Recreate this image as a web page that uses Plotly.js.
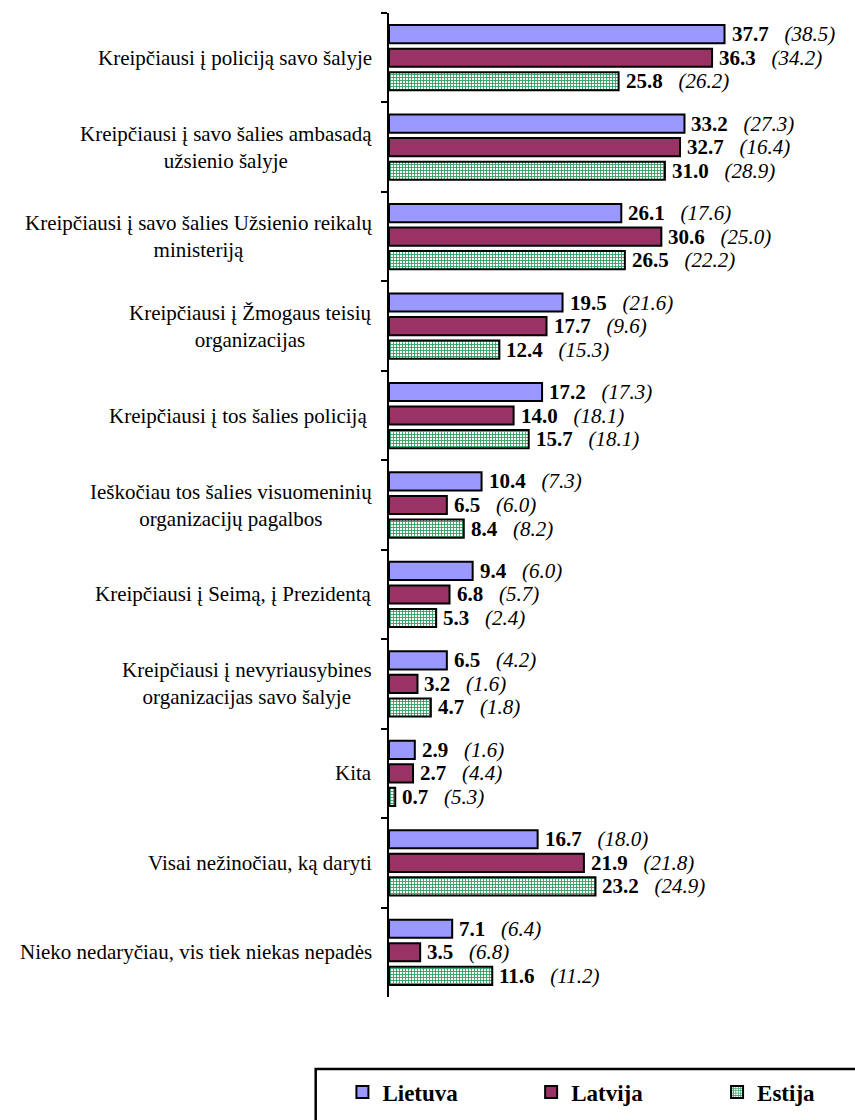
<!DOCTYPE html>
<html>
<head>
<meta charset="utf-8">
<script src="https://cdn.plot.ly/plotly-3.0.1.min.js"></script>
<style>html,body{margin:0;padding:0;background:#fff;}#chart{width:855px;height:1120px;}</style>
</head>
<body>
<div id="chart"></div>
<script>
var categories = [
  "Kreipčiausi į policiją savo šalyje",
  "Kreipčiausi į savo šalies ambasadą<br>užsienio šalyje",
  "Kreipčiausi į savo šalies Užsienio reikalų<br>ministeriją",
  "Kreipčiausi į Žmogaus teisių<br>organizacijas",
  "Kreipčiausi į tos šalies policiją\u00a0",
  "Ieškočiau tos šalies visuomeninių<br>organizacijų pagalbos",
  "Kreipčiausi į Seimą, į Prezidentą",
  "Kreipčiausi į nevyriausybines<br>organizacijas savo šalyje",
  "Kita",
  "Visai nežinočiau, ką daryti",
  "Nieko nedaryčiau, vis tiek niekas nepadės"
];
var seriesNames = ["Lietuva", "Latvija", "Estija"];
var lietuva = [37.7, 33.2, 26.1, 19.5, 17.2, 10.4, 9.4, 6.5, 2.9, 16.7, 7.1];
var latvija = [36.3, 32.7, 30.6, 17.7, 14.0, 6.5, 6.8, 3.2, 2.7, 21.9, 3.5];
var estija  = [25.8, 31.0, 26.5, 12.4, 15.7, 8.4, 5.3, 4.7, 0.7, 23.2, 11.6];
var lietuvaPrev = [38.5, 27.3, 17.6, 21.6, 17.3, 7.3, 6.0, 4.2, 1.6, 18.0, 6.4];
var latvijaPrev = [34.2, 16.4, 25.0, 9.6, 18.1, 6.0, 5.7, 1.6, 4.4, 21.8, 6.8];
var estijaPrev  = [26.2, 28.9, 22.2, 15.3, 18.1, 8.2, 2.4, 1.8, 5.3, 24.9, 11.2];

var FONT = "Liberation Serif, Times New Roman, serif";
var values = [lietuva, latvija, estija];
var prevs = [lietuvaPrev, latvijaPrev, estijaPrev];
var bargap = 0.21, bargroupgap = 0.23;
var legendIds = ["legend", "legend2", "legend3"];
var legendX = [-0.1, 0.305, 0.704];

var traces = [
  {name: seriesNames[0], marker: {color: "#9999FF", line: {color: "#000", width: 2}}},
  {name: seriesNames[1], marker: {color: "#993366", line: {color: "#000", width: 2}}},
  {name: seriesNames[2], marker: {color: "#ffffff", line: {color: "#000", width: 2},
     pattern: {shape: "+", fgcolor: "#2E9E5E", bgcolor: "#ffffff", size: 3, solidity: 0.5}}}
].map(function (t, k) {
  t.type = "bar";
  t.orientation = "h";
  t.x = values[k];
  t.y = categories;
  t.hoverinfo = "none";
  t.legend = legendIds[k];
  return t;
});

var annotations = [];
var slot = (1 - bargap) / 3;
categories.forEach(function (c, i) {
  annotations.push({
    xref: "paper", yref: "y", x: 0, y: i, xanchor: "right", yanchor: "middle",
    xshift: -15, align: "center", showarrow: false, text: c,
    font: {family: FONT, size: 21, color: "#000"}
  });
  for (var k = 0; k < 3; k++) {
    annotations.push({
      xref: "x", yref: "y", x: values[k][i], y: i + (k - 1) * slot,
      xanchor: "left", yanchor: "middle", xshift: 5, showarrow: false,
      text: "<b>" + values[k][i].toFixed(1) + "</b>\u00a0\u00a0\u00a0<i>(" + prevs[k][i].toFixed(1) + ")</i>",
      font: {family: FONT, size: 21, color: "#000"}
    });
  }
});

var layout = {
  width: 855, height: 1120,
  margin: {l: 389, r: 0, t: 13, b: 123},
  paper_bgcolor: "#fff", plot_bgcolor: "#fff",
  barmode: "group", bargap: bargap, bargroupgap: bargroupgap,
  showlegend: true,
  xaxis: {range: [0, 52.36], visible: false, showgrid: false, zeroline: false, fixedrange: true},
  yaxis: {
    type: "category", autorange: "reversed", showticklabels: false,
    showline: true, linecolor: "#000", linewidth: 2,
    ticks: "outside", tickson: "boundaries", ticklen: 6, tickwidth: 2, tickcolor: "#000",
    showgrid: false, zeroline: false, fixedrange: true
  },
  annotations: annotations,
  shapes: [{
    type: "rect", xref: "paper", yref: "paper",
    x0: -0.1573, x1: 1.2, y0: -0.0732, y1: -0.3,
    line: {color: "#000", width: 2.5}, fillcolor: "rgba(0,0,0,0)"
  }]
};
legendIds.forEach(function (id, k) {
  layout[id] = {
    orientation: "h", x: legendX[k], xanchor: "left", y: -0.0965, yanchor: "middle",
    font: {family: FONT, size: 23, color: "#000", weight: "bold"},
    bgcolor: "rgba(0,0,0,0)", borderwidth: 0
  };
});

Plotly.newPlot("chart", traces, layout, {displayModeBar: false, staticPlot: true});
</script>
</body>
</html>
